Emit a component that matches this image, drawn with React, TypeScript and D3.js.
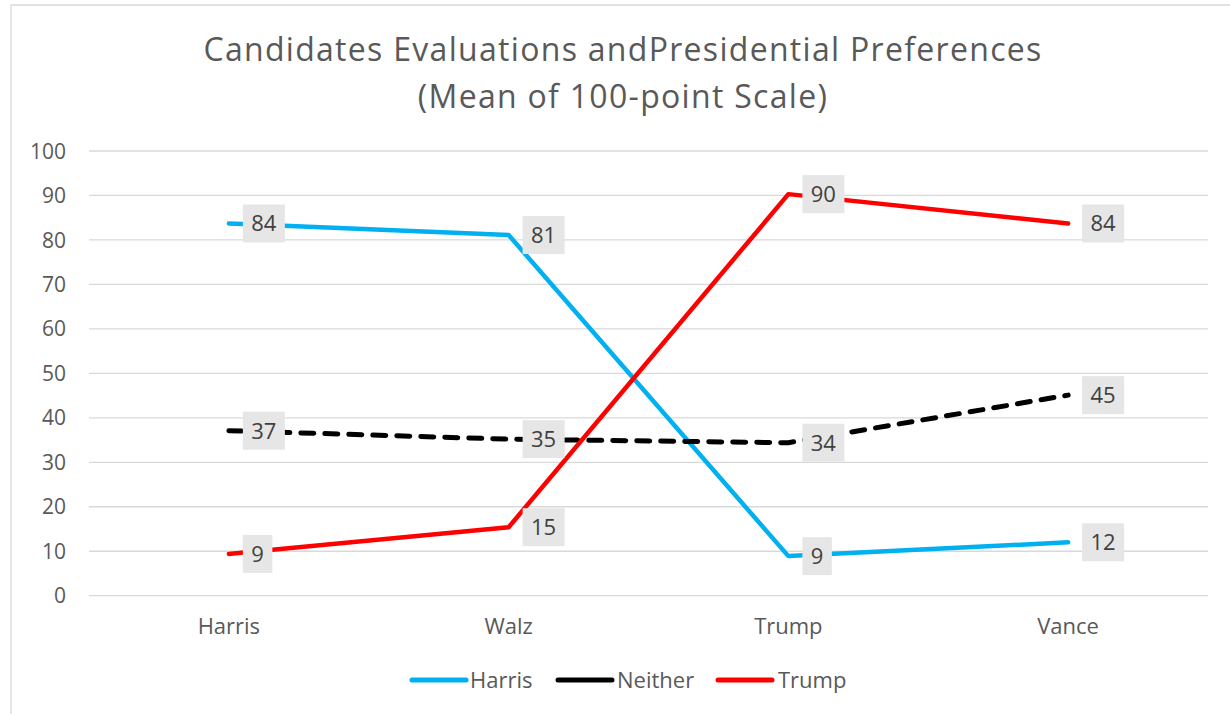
import React from "react";
import * as d3 from "d3";

const categories = ["Harris", "Walz", "Trump", "Vance"];
const seriesNames = ["Harris", "Neither", "Trump"];
const harrisValues = [83.7, 81.1, 8.9, 12.0];
const neitherValues = [37.1, 35.2, 34.4, 45.1];
const trumpValues = [9.4, 15.4, 90.3, 83.7];
const yTicks = [0, 10, 20, 30, 40, 50, 60, 70, 80, 90, 100];
const titleLines = ["Candidates Evaluations andPresidential Preferences", "(Mean of 100-point Scale)"];

const W = 1230;
const H = 714;
const FONT = "'Open Sans', 'Liberation Sans', sans-serif";

const series = [
  { name: seriesNames[0], values: harrisValues, color: "#00B0F0", dash: null as string | null, width: 4.5 },
  { name: seriesNames[1], values: neitherValues, color: "#000000", dash: "13 11", width: 5 },
  { name: seriesNames[2], values: trumpValues, color: "#FF0000", dash: null as string | null, width: 4.5 },
];

export default function App() {
  const x = d3.scalePoint<string>().domain(categories).range([89, 1208]).padding(0.5);
  const y = d3.scaleLinear().domain([0, 100]).range([595.7, 151]);
  const line = d3
    .line<number>()
    .x((_, i) => x(categories[i]) as number)
    .y((d) => y(d));

  const legendItems = [
    { lx: 412, tx: 470 },
    { lx: 558, tx: 617 },
    { lx: 718, tx: 778 },
  ];

  return (
    <svg
      width={W}
      height={H}
      style={{ position: "absolute", left: 0, top: 0, background: "#fff" }}
      fontFamily={FONT}
    >
      <rect x={0} y={0} width={W} height={H} fill="#fff" />
      {/* chart frame */}
      <line x1={11} y1={5} x2={W} y2={5} stroke="#d9d9d9" strokeWidth={1.3} />
      <line x1={11} y1={5} x2={11} y2={H} stroke="#d9d9d9" strokeWidth={1.3} />

      {/* title */}
      {titleLines.map((t, i) => (
        <text key={i} x={623} y={61 + i * 47} textAnchor="middle" fontSize={32} letterSpacing={1.3} fill="#595959">
          {t}
        </text>
      ))}

      {/* gridlines */}
      {yTicks.map((t) => (
        <g key={t}>
          <line x1={89} x2={1208} y1={y(t)} y2={y(t)} stroke="#d9d9d9" strokeWidth={1.3} />
          <text x={66} y={y(t)} dy="0.36em" textAnchor="end" fontSize={21} fill="#595959">
            {t}
          </text>
        </g>
      ))}

      {/* x labels */}
      {categories.map((c) => (
        <text key={c} x={x(c)} y={634} textAnchor="middle" fontSize={22} fill="#595959">
          {c}
        </text>
      ))}

      {/* lines */}
      {series.map((s) => (
        <path
          key={s.name}
          d={line(s.values) || ""}
          fill="none"
          stroke={s.color}
          strokeWidth={s.width}
          strokeLinecap="round"
          strokeLinejoin="round"
          strokeDasharray={s.dash || undefined}
        />
      ))}

      {/* data labels */}
      {series.map((s) =>
        s.values.map((v, i) => {
          const label = String(Math.round(v));
          const px = x(categories[i]) as number;
          const py = y(v);
          const bw = label.length * 12.5 + 17;
          const bh = 38;
          return (
            <g key={s.name + i}>
              <rect x={px + 14} y={py - bh / 2} width={bw} height={bh} fill="#E7E6E6" />
              <text x={px + 14 + bw / 2} y={py} dy="0.36em" textAnchor="middle" fontSize={22} fill="#404040">
                {label}
              </text>
            </g>
          );
        })
      )}

      {/* legend */}
      {series.map((s, i) => (
        <g key={s.name}>
          <line
            x1={legendItems[i].lx}
            x2={legendItems[i].lx + 54}
            y1={680}
            y2={680}
            stroke={s.color}
            strokeWidth={5}
            strokeLinecap="round"
          />
          <text x={legendItems[i].tx} y={680} dy="0.36em" fontSize={22} fill="#595959">
            {s.name}
          </text>
        </g>
      ))}
    </svg>
  );
}
